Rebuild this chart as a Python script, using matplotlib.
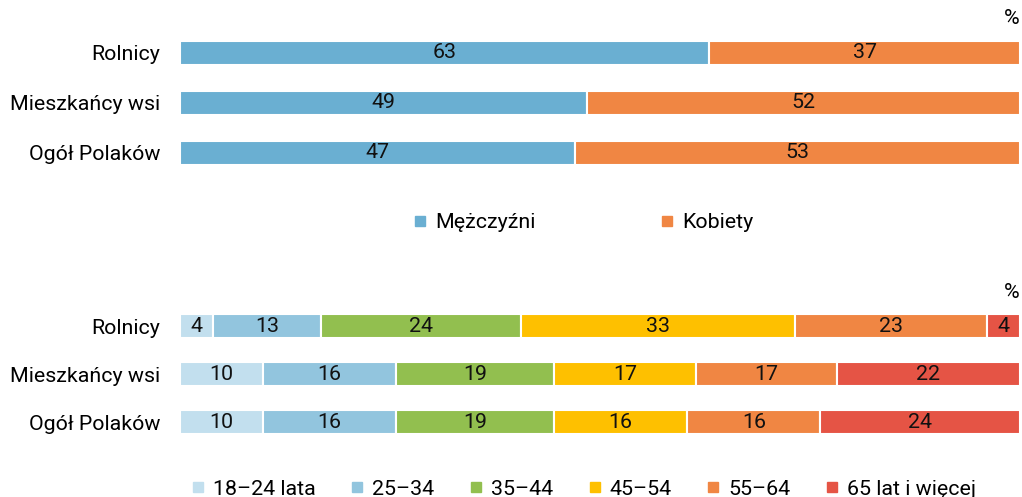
import numpy as np
import matplotlib
matplotlib.use("Agg")
import matplotlib.pyplot as plt
from matplotlib.lines import Line2D

plt.rcParams['font.family'] = ['Roboto', 'DejaVu Sans']

groups = ['Rolnicy', 'Mieszkańcy wsi', 'Ogół Polaków']

sex_labels = ['Mężczyźni', 'Kobiety']
sex_values = [[63, 37], [49, 52], [47, 53]]
sex_colors = ['#6aafd2', '#f08643']

age_labels = ['18–24 lata', '25–34', '35–44', '45–54', '55–64', '65 lat i więcej']
age_values = [[4, 13, 24, 33, 23, 4],
              [10, 16, 19, 17, 17, 22],
              [10, 16, 19, 16, 16, 24]]
age_colors = ['#c2dfee', '#92c5de', '#92bf4f', '#fec000', '#f08643', '#e55445']

FS = 15.4


def stacked(ax, values, colors, labels, height):
    values = np.array(values, dtype=float)
    shares = values / values.sum(axis=1, keepdims=True) * 100
    y = np.arange(len(groups))
    left = np.zeros(len(groups))
    for j in range(values.shape[1]):
        ax.barh(y, shares[:, j], left=left, height=height, color=colors[j],
                edgecolor='white', linewidth=1.5, label=labels[j])
        for i in range(len(groups)):
            ax.text(left[i] + shares[i, j] / 2, y[i], '%d' % values[i, j],
                    ha='center', va='center', fontsize=FS, color='#111111')
        left += shares[:, j]
    ax.set_xlim(0, 100)
    ax.set_ylim(len(groups) - 0.5, -0.5)
    ax.set_yticks(y)
    ax.set_yticklabels(groups, fontsize=FS)
    ax.tick_params(axis='y', length=0, pad=14)
    ax.set_xticks([])
    for s in ax.spines.values():
        s.set_visible(False)
    ax.text(1.0, 1.0, '%', transform=ax.transAxes, ha='right', va='bottom',
            fontsize=FS)


def legend(ax, labels, colors, y, spacing):
    handles = [Line2D([], [], marker='s', linestyle='none', markersize=7,
                      markerfacecolor=c, markeredgecolor=c) for c in colors]
    ax.legend(handles, labels, loc='center', bbox_to_anchor=(0.48, y),
              ncol=len(labels), frameon=False, fontsize=FS,
              handlelength=0.7, handletextpad=0.35, columnspacing=spacing)


fig = plt.figure(figsize=(10.22, 4.97), dpi=100)

ax1 = fig.add_axes([0.176, 0.642, 0.822, 0.302])
stacked(ax1, sex_values, sex_colors, sex_labels, 0.48)
legend(ax1, sex_labels, sex_colors, -0.3, 5.8)

ax2 = fig.add_axes([0.176, 0.1026, 0.822, 0.2897])
stacked(ax2, age_values, age_colors, age_labels, 0.5)
legend(ax2, age_labels, age_colors, -0.3, 1.6)

fig.savefig('out.png', dpi=100)
